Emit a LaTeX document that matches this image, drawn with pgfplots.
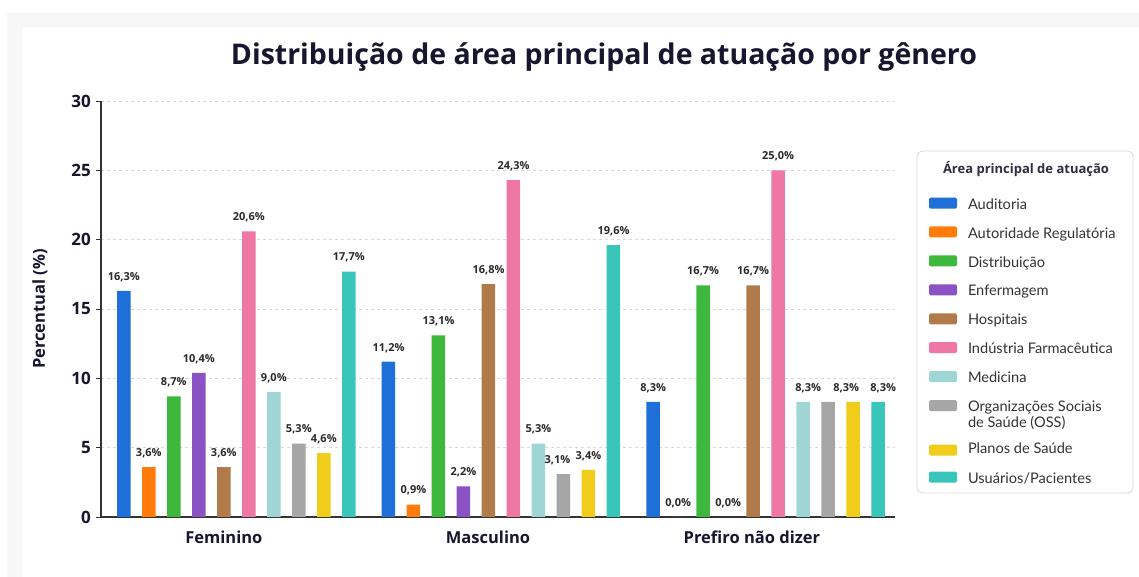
\documentclass[border=0pt]{standalone}
\usepackage{fontspec}
\setmainfont{Lato}
\newfontfamily\osb{Open Sans}
\usepackage{pgfplots}
\pgfplotsset{compat=1.18}
\pgfplotsset{shiftimg/.style={legend image code/.code={\fill[##1, rounded corners=1.5pt] (0pt,-13.5pt) rectangle (28pt,-2.5pt);}}}
\definecolor{c1}{HTML}{1F6FD8}
\definecolor{c2}{HTML}{FF7B0A}
\definecolor{c3}{HTML}{3DB83D}
\definecolor{c4}{HTML}{8A52C2}
\definecolor{c5}{HTML}{B07A4A}
\definecolor{c6}{HTML}{EE77A5}
\definecolor{c7}{HTML}{9FD5D5}
\definecolor{c8}{HTML}{A6A6A6}
\definecolor{c9}{HTML}{F2CC1B}
\definecolor{c10}{HTML}{38C6BA}
\definecolor{titlec}{HTML}{16162E}
\definecolor{axisc}{HTML}{333333}
\definecolor{gridc}{HTML}{D9D9D9}
\definecolor{labc}{HTML}{2B2B2B}
\definecolor{legc}{HTML}{333333}
\begin{document}
\begin{tikzpicture}[x=1pt,y=1pt]
\fill[white] (0,0) rectangle (1139,577);
\fill[black!3] (7,0) rectangle (1139,564);
\fill[white] (22,0) rectangle (1139,550);
\useasboundingbox (0,0) rectangle (1139,577);
\node[font={\fontsize{28.5}{32}\osb\bfseries}, text=titlec] at (604,520) {Distribuição de área principal de atuação por gênero};
\draw[draw=black!15, line width=0.8pt, rounded corners=6pt, fill=white] (917,84) rectangle (1133,426);
\node[font={\fontsize{13}{16}\osb\bfseries}, text=titlec!90] at (1026,408) {Área principal de atuação};
\begin{axis}[
  at={(101pt,60pt)}, anchor=south west,
  scale only axis, width=794pt, height=416pt,
  xmin=-0.5113, xmax=2.4887, ymin=0, ymax=30,
  axis x line*=bottom, axis y line*=left,
  axis line style={draw=axisc, line width=1.1pt, -},
  ytick={0,5,...,30},
  xtick={-0.047,0.951,1.948},
  xticklabels={Feminino,Masculino,Prefiro não dizer},
  x tick style={draw=none},
  y tick style={draw=axisc, line width=0.9pt},
  tick align=outside, major tick length=5pt,
  ymajorgrids,
  grid style={draw=gridc, dash pattern=on 3pt off 3pt, line width=0.6pt},
  ybar=11.5pt, bar width=13.5pt,
  point meta=explicit symbolic,
  nodes near coords={\pgfplotspointmeta},
  every node near coord/.append style={font={\fontsize{11}{13}\osb\bfseries}, text=labc, inner sep=0pt, anchor=south, yshift=9pt},
  /pgf/number format/assume math mode=true,
  ticklabel style={font={\fontsize{17}{20}\osb\bfseries}, text=titlec},
  yticklabel style={anchor=east, inner sep=0pt, xshift=-5pt},
  xticklabel style={anchor=center, inner sep=0pt, yshift=-15pt, font={\fontsize{16.5}{20}\osb\bfseries}},
  ylabel={Percentual (\%)},
  every axis y label/.style={at={(axis description cs:-0.07683,0.5)}, rotate=90, anchor=center, font={\fontsize{16.5}{20}\osb\bfseries}, text=titlec},
  legend cell align=left,
  legend style={at={(axis description cs:1.04282,0.768)}, anchor=north west, draw=none, fill=none, inner sep=0pt, outer sep=0pt, row sep=15.83pt, column sep=11pt, font=\fontsize{14.6}{15}\selectfont, text=legc, nodes={inner sep=0pt, text=legc}},
  legend image code/.code={\fill[#1, rounded corners=1.5pt] (0pt,-4pt) rectangle (28pt,7pt);},
]
\addplot[fill=c1, draw=none] coordinates {(0,16.3) [16{,}3\%] (1,11.2) [11{,}2\%] (2,8.3) [8{,}3\%]};
\addlegendentry{\strut Auditoria}
\addplot[fill=c2, draw=none] coordinates {(0,3.6) [3{,}6\%] (1,0.9) [0{,}9\%] (2,0) [0{,}0\%]};
\addlegendentry{\strut Autoridade Regulatória}
\addplot[fill=c3, draw=none] coordinates {(0,8.7) [8{,}7\%] (1,13.1) [13{,}1\%] (2,16.7) [16{,}7\%]};
\addlegendentry{\strut Distribuição}
\addplot[fill=c4, draw=none] coordinates {(0,10.4) [10{,}4\%] (1,2.2) [2{,}2\%] (2,0) [0{,}0\%]};
\addlegendentry{\strut Enfermagem}
\addplot[fill=c5, draw=none] coordinates {(0,3.6) [3{,}6\%] (1,16.8) [16{,}8\%] (2,16.7) [16{,}7\%]};
\addlegendentry{\strut Hospitais}
\addplot[fill=c6, draw=none] coordinates {(0,20.6) [20{,}6\%] (1,24.3) [24{,}3\%] (2,25.0) [25{,}0\%]};
\addlegendentry{\strut Indústria Farmacêutica}
\addplot[fill=c7, draw=none] coordinates {(0,9.0) [9{,}0\%] (1,5.3) [5{,}3\%] (2,8.3) [\rule{10pt}{0pt}8{,}3\%]};
\addlegendentry{\strut Medicina}
\addplot[fill=c8, draw=none] coordinates {(0,5.3) [5{,}3\%] (1,3.1) [3{,}1\%\rule{12pt}{0pt}] (2,8.3) [\mbox{}]};
\addlegendentry{\begin{tabular}[t]{@{}l@{}}Organizações Sociais\\de Saúde (OSS)\end{tabular}}
\addplot[fill=c9, draw=none, shiftimg] coordinates {(0,4.6) [4{,}6\%] (1,3.4) [3{,}4\%] (2,8.3) [8{,}3\%\rule{14pt}{0pt}]};
\addlegendentry{\rule{0pt}{25pt}Planos de Saúde}
\addplot[fill=c10, draw=none] coordinates {(0,17.7) [17{,}7\%] (1,19.6) [19{,}6\%] (2,8.3) [\rule{10pt}{0pt}8{,}3\%]};
\addlegendentry{Usuários/Pacientes}
\end{axis}
\end{tikzpicture}
\end{document}
